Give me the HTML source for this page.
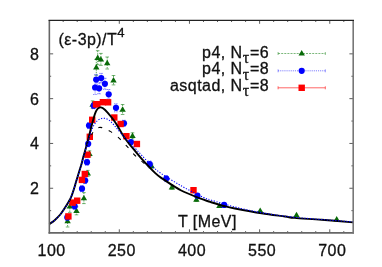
<!DOCTYPE html>
<html><head><meta charset="utf-8"><style>
html,body{margin:0;padding:0;background:#fff}
#c{position:relative;width:382px;height:267px;overflow:hidden;background:#fff;font-family:"Liberation Sans",sans-serif;color:#111;will-change:transform}
.t{position:absolute;white-space:nowrap;line-height:1;-webkit-text-stroke:0.3px #111}
.ls{letter-spacing:0.45px}
.sup{font-size:0.82em;position:relative;top:-0.6em}
.sub{font-family:"Liberation Serif",serif;font-size:1.0em;position:relative;top:0.34em;margin:0 0.3px}
</style></head><body><div id="c">
<svg width="382" height="267" viewBox="0 0 382 267" style="position:absolute;left:0;top:0">
<path d="M63.18 232.80 v-1.70 M63.18 20.30 v1.70 M77.21 232.80 v-1.70 M77.21 20.30 v1.70 M91.24 232.80 v-1.70 M91.24 20.30 v1.70 M105.27 232.80 v-1.70 M105.27 20.30 v1.70 M119.31 232.80 v-3.50 M119.31 20.30 v3.50 M133.34 232.80 v-1.70 M133.34 20.30 v1.70 M147.37 232.80 v-1.70 M147.37 20.30 v1.70 M161.40 232.80 v-1.70 M161.40 20.30 v1.70 M175.43 232.80 v-1.70 M175.43 20.30 v1.70 M189.46 232.80 v-3.50 M189.46 20.30 v3.50 M203.49 232.80 v-1.70 M203.49 20.30 v1.70 M217.52 232.80 v-1.70 M217.52 20.30 v1.70 M231.55 232.80 v-1.70 M231.55 20.30 v1.70 M245.58 232.80 v-1.70 M245.58 20.30 v1.70 M259.62 232.80 v-3.50 M259.62 20.30 v3.50 M273.65 232.80 v-1.70 M273.65 20.30 v1.70 M287.68 232.80 v-1.70 M287.68 20.30 v1.70 M301.71 232.80 v-1.70 M301.71 20.30 v1.70 M315.74 232.80 v-1.70 M315.74 20.30 v1.70 M329.77 232.80 v-3.50 M329.77 20.30 v3.50 M343.80 232.80 v-1.70 M343.80 20.30 v1.70 M49.35 210.65 h1.80 M353.20 210.65 h-1.80 M49.35 188.25 h3.80 M353.20 188.25 h-3.80 M49.35 165.85 h1.80 M353.20 165.85 h-1.80 M49.35 143.45 h3.80 M353.20 143.45 h-3.80 M49.35 121.05 h1.80 M353.20 121.05 h-1.80 M49.35 98.65 h3.80 M353.20 98.65 h-3.80 M49.35 76.25 h1.80 M353.20 76.25 h-1.80 M49.35 53.85 h3.80 M353.20 53.85 h-3.80" stroke="#333" stroke-width="0.8" fill="none"/>
<path d="M97.70 50.70 V64.70" stroke="#0a7a0a" stroke-width="0.8" stroke-dasharray="1.5 1" fill="none" opacity="0.8"/><path d="M95.90 50.70 h3.6 M95.90 64.70 h3.6" stroke="#0a7a0a" stroke-width="0.8" fill="none" opacity="0.7"/>
<path d="M100.90 53.40 V65.40" stroke="#0a7a0a" stroke-width="0.8" stroke-dasharray="1.5 1" fill="none" opacity="0.8"/><path d="M99.10 53.40 h3.6 M99.10 65.40 h3.6" stroke="#0a7a0a" stroke-width="0.8" fill="none" opacity="0.7"/>
<path d="M107.20 57.00 V69.00" stroke="#0a7a0a" stroke-width="0.8" stroke-dasharray="1.5 1" fill="none" opacity="0.8"/><path d="M105.40 57.00 h3.6 M105.40 69.00 h3.6" stroke="#0a7a0a" stroke-width="0.8" fill="none" opacity="0.7"/>
<path d="M96.30 59.30 V75.30" stroke="#0a7a0a" stroke-width="0.8" stroke-dasharray="1.5 1" fill="none" opacity="0.8"/><path d="M94.50 59.30 h3.6 M94.50 75.30 h3.6" stroke="#0a7a0a" stroke-width="0.8" fill="none" opacity="0.7"/>
<path d="M113.50 75.50 V84.90" stroke="#0a7a0a" stroke-width="0.8" stroke-dasharray="1.5 1" fill="none" opacity="0.8"/><path d="M111.70 75.50 h3.6 M111.70 84.90 h3.6" stroke="#0a7a0a" stroke-width="0.8" fill="none" opacity="0.7"/>
<path d="M122.60 104.50 V114.50" stroke="#0a7a0a" stroke-width="0.8" stroke-dasharray="1.5 1" fill="none" opacity="0.8"/><path d="M120.80 104.50 h3.6 M120.80 114.50 h3.6" stroke="#0a7a0a" stroke-width="0.8" fill="none" opacity="0.7"/>
<path d="M132.50 132.80 V138.80" stroke="#0a7a0a" stroke-width="0.8" stroke-dasharray="1.5 1" fill="none" opacity="0.8"/><path d="M130.70 132.80 h3.6 M130.70 138.80 h3.6" stroke="#0a7a0a" stroke-width="0.8" fill="none" opacity="0.7"/>
<path d="M151.60 164.00 V168.00" stroke="#0a7a0a" stroke-width="0.8" stroke-dasharray="1.5 1" fill="none" opacity="0.8"/><path d="M149.80 164.00 h3.6 M149.80 168.00 h3.6" stroke="#0a7a0a" stroke-width="0.8" fill="none" opacity="0.7"/>
<path d="M171.90 185.20 V189.20" stroke="#0a7a0a" stroke-width="0.8" stroke-dasharray="1.5 1" fill="none" opacity="0.8"/><path d="M170.10 185.20 h3.6 M170.10 189.20 h3.6" stroke="#0a7a0a" stroke-width="0.8" fill="none" opacity="0.7"/>
<path d="M196.40 197.50 V201.50" stroke="#0a7a0a" stroke-width="0.8" stroke-dasharray="1.5 1" fill="none" opacity="0.8"/><path d="M194.60 197.50 h3.6 M194.60 201.50 h3.6" stroke="#0a7a0a" stroke-width="0.8" fill="none" opacity="0.7"/>
<path d="M219.40 204.40 V207.40" stroke="#0a7a0a" stroke-width="0.8" stroke-dasharray="1.5 1" fill="none" opacity="0.8"/><path d="M217.60 204.40 h3.6 M217.60 207.40 h3.6" stroke="#0a7a0a" stroke-width="0.8" fill="none" opacity="0.7"/>
<path d="M89.50 150.80 V156.80" stroke="#0a7a0a" stroke-width="0.8" stroke-dasharray="1.5 1" fill="none" opacity="0.8"/><path d="M87.70 150.80 h3.6 M87.70 156.80 h3.6" stroke="#0a7a0a" stroke-width="0.8" fill="none" opacity="0.7"/>
<path d="M87.80 170.40 V176.40" stroke="#0a7a0a" stroke-width="0.8" stroke-dasharray="1.5 1" fill="none" opacity="0.8"/><path d="M86.00 170.40 h3.6 M86.00 176.40 h3.6" stroke="#0a7a0a" stroke-width="0.8" fill="none" opacity="0.7"/>
<path d="M83.90 192.60 V203.60" stroke="#0a7a0a" stroke-width="0.8" stroke-dasharray="1.5 1" fill="none" opacity="0.8"/><path d="M82.10 192.60 h3.6 M82.10 203.60 h3.6" stroke="#0a7a0a" stroke-width="0.8" fill="none" opacity="0.7"/>
<path d="M69.80 200.40 V212.40" stroke="#0a7a0a" stroke-width="0.8" stroke-dasharray="1.5 1" fill="none" opacity="0.8"/><path d="M68.00 200.40 h3.6 M68.00 212.40 h3.6" stroke="#0a7a0a" stroke-width="0.8" fill="none" opacity="0.7"/>
<path d="M76.50 206.80 V214.80" stroke="#0a7a0a" stroke-width="0.8" stroke-dasharray="1.5 1" fill="none" opacity="0.8"/><path d="M74.70 206.80 h3.6 M74.70 214.80 h3.6" stroke="#0a7a0a" stroke-width="0.8" fill="none" opacity="0.7"/>
<path d="M67.60 215.00 V227.00" stroke="#0a7a0a" stroke-width="0.8" stroke-dasharray="1.5 1" fill="none" opacity="0.8"/><path d="M65.80 215.00 h3.6 M65.80 227.00 h3.6" stroke="#0a7a0a" stroke-width="0.8" fill="none" opacity="0.7"/>
<path d="M92.60 100.90 V108.30" stroke="#0a7a0a" stroke-width="0.8" stroke-dasharray="1.5 1" fill="none" opacity="0.8"/><path d="M90.80 100.90 h3.6 M90.80 108.30 h3.6" stroke="#0a7a0a" stroke-width="0.8" fill="none" opacity="0.7"/>
<path d="M97.70 54.50 L100.90 59.90 L94.50 59.90 Z" fill="#086a08"/>
<path d="M100.90 56.20 L104.10 61.60 L97.70 61.60 Z" fill="#086a08"/>
<path d="M107.20 59.80 L110.40 65.20 L104.00 65.20 Z" fill="#086a08"/>
<path d="M96.30 64.10 L99.50 69.50 L93.10 69.50 Z" fill="#086a08"/>
<path d="M113.50 77.00 L116.70 82.40 L110.30 82.40 Z" fill="#086a08"/>
<path d="M122.60 106.30 L125.80 111.70 L119.40 111.70 Z" fill="#086a08"/>
<path d="M132.50 132.60 L135.70 138.00 L129.30 138.00 Z" fill="#086a08"/>
<path d="M151.60 162.80 L154.80 168.20 L148.40 168.20 Z" fill="#086a08"/>
<path d="M171.90 184.00 L175.10 189.40 L168.70 189.40 Z" fill="#086a08"/>
<path d="M196.40 196.30 L199.60 201.70 L193.20 201.70 Z" fill="#086a08"/>
<path d="M219.40 202.70 L222.60 208.10 L216.20 208.10 Z" fill="#086a08"/>
<path d="M260.20 207.40 L263.40 212.80 L257.00 212.80 Z" fill="#086a08"/>
<path d="M296.50 211.80 L299.70 217.20 L293.30 217.20 Z" fill="#086a08"/>
<path d="M336.70 216.00 L339.90 221.40 L333.50 221.40 Z" fill="#086a08"/>
<path d="M89.50 150.60 L92.70 156.00 L86.30 156.00 Z" fill="#086a08"/>
<path d="M87.80 170.20 L91.00 175.60 L84.60 175.60 Z" fill="#086a08"/>
<path d="M83.90 194.90 L87.10 200.30 L80.70 200.30 Z" fill="#086a08"/>
<path d="M69.80 203.20 L73.00 208.60 L66.60 208.60 Z" fill="#086a08"/>
<path d="M76.50 207.60 L79.70 213.00 L73.30 213.00 Z" fill="#086a08"/>
<path d="M67.60 217.80 L70.80 223.20 L64.40 223.20 Z" fill="#086a08"/>
<path d="M92.60 101.40 L95.80 106.80 L89.40 106.80 Z" fill="#086a08"/>
<path d="M96.20 74.60 V84.60" stroke="#2020ff" stroke-width="0.8" stroke-dasharray="1 1" fill="none" opacity="0.8"/><path d="M94.20 74.60 h4 M94.20 84.60 h4" stroke="#2020ff" stroke-width="0.8" stroke-dasharray="1.4 0.8" fill="none" opacity="0.7"/>
<path d="M101.20 73.40 V82.80" stroke="#2020ff" stroke-width="0.8" stroke-dasharray="1 1" fill="none" opacity="0.8"/><path d="M99.20 73.40 h4 M99.20 82.80 h4" stroke="#2020ff" stroke-width="0.8" stroke-dasharray="1.4 0.8" fill="none" opacity="0.7"/>
<path d="M104.90 78.30 V89.30" stroke="#2020ff" stroke-width="0.8" stroke-dasharray="1 1" fill="none" opacity="0.8"/><path d="M102.90 78.30 h4 M102.90 89.30 h4" stroke="#2020ff" stroke-width="0.8" stroke-dasharray="1.4 0.8" fill="none" opacity="0.7"/>
<path d="M95.10 80.50 V94.50" stroke="#2020ff" stroke-width="0.8" stroke-dasharray="1 1" fill="none" opacity="0.8"/><path d="M93.10 80.50 h4 M93.10 94.50 h4" stroke="#2020ff" stroke-width="0.8" stroke-dasharray="1.4 0.8" fill="none" opacity="0.7"/>
<path d="M99.10 82.80 V93.80" stroke="#2020ff" stroke-width="0.8" stroke-dasharray="1 1" fill="none" opacity="0.8"/><path d="M97.10 82.80 h4 M97.10 93.80 h4" stroke="#2020ff" stroke-width="0.8" stroke-dasharray="1.4 0.8" fill="none" opacity="0.7"/>
<path d="M108.70 89.50 V99.10" stroke="#2020ff" stroke-width="0.8" stroke-dasharray="1 1" fill="none" opacity="0.8"/><path d="M106.70 89.50 h4 M106.70 99.10 h4" stroke="#2020ff" stroke-width="0.8" stroke-dasharray="1.4 0.8" fill="none" opacity="0.7"/>
<path d="M116.00 103.80 V111.80" stroke="#2020ff" stroke-width="0.8" stroke-dasharray="1 1" fill="none" opacity="0.8"/><path d="M114.00 103.80 h4 M114.00 111.80 h4" stroke="#2020ff" stroke-width="0.8" stroke-dasharray="1.4 0.8" fill="none" opacity="0.7"/>
<path d="M93.70 102.70 V108.70" stroke="#2020ff" stroke-width="0.8" stroke-dasharray="1 1" fill="none" opacity="0.8"/><path d="M91.70 102.70 h4 M91.70 108.70 h4" stroke="#2020ff" stroke-width="0.8" stroke-dasharray="1.4 0.8" fill="none" opacity="0.7"/>
<path d="M124.00 120.30 V126.30" stroke="#2020ff" stroke-width="0.8" stroke-dasharray="1 1" fill="none" opacity="0.8"/><path d="M122.00 120.30 h4 M122.00 126.30 h4" stroke="#2020ff" stroke-width="0.8" stroke-dasharray="1.4 0.8" fill="none" opacity="0.7"/>
<path d="M89.00 122.60 V128.60" stroke="#2020ff" stroke-width="0.8" stroke-dasharray="1 1" fill="none" opacity="0.8"/><path d="M87.00 122.60 h4 M87.00 128.60 h4" stroke="#2020ff" stroke-width="0.8" stroke-dasharray="1.4 0.8" fill="none" opacity="0.7"/>
<path d="M88.20 140.80 V146.80" stroke="#2020ff" stroke-width="0.8" stroke-dasharray="1 1" fill="none" opacity="0.8"/><path d="M86.20 140.80 h4 M86.20 146.80 h4" stroke="#2020ff" stroke-width="0.8" stroke-dasharray="1.4 0.8" fill="none" opacity="0.7"/>
<path d="M87.00 159.20 V165.20" stroke="#2020ff" stroke-width="0.8" stroke-dasharray="1 1" fill="none" opacity="0.8"/><path d="M85.00 159.20 h4 M85.00 165.20 h4" stroke="#2020ff" stroke-width="0.8" stroke-dasharray="1.4 0.8" fill="none" opacity="0.7"/>
<path d="M85.20 177.60 V183.60" stroke="#2020ff" stroke-width="0.8" stroke-dasharray="1 1" fill="none" opacity="0.8"/><path d="M83.20 177.60 h4 M83.20 183.60 h4" stroke="#2020ff" stroke-width="0.8" stroke-dasharray="1.4 0.8" fill="none" opacity="0.7"/>
<path d="M82.00 185.70 V191.70" stroke="#2020ff" stroke-width="0.8" stroke-dasharray="1 1" fill="none" opacity="0.8"/><path d="M80.00 185.70 h4 M80.00 191.70 h4" stroke="#2020ff" stroke-width="0.8" stroke-dasharray="1.4 0.8" fill="none" opacity="0.7"/>
<path d="M74.70 203.30 V209.30" stroke="#2020ff" stroke-width="0.8" stroke-dasharray="1 1" fill="none" opacity="0.8"/><path d="M72.70 203.30 h4 M72.70 209.30 h4" stroke="#2020ff" stroke-width="0.8" stroke-dasharray="1.4 0.8" fill="none" opacity="0.7"/>
<path d="M67.30 214.40 V220.40" stroke="#2020ff" stroke-width="0.8" stroke-dasharray="1 1" fill="none" opacity="0.8"/><path d="M65.30 214.40 h4 M65.30 220.40 h4" stroke="#2020ff" stroke-width="0.8" stroke-dasharray="1.4 0.8" fill="none" opacity="0.7"/>
<path d="M131.00 140.10 V144.10" stroke="#2020ff" stroke-width="0.8" stroke-dasharray="1 1" fill="none" opacity="0.8"/><path d="M129.00 140.10 h4 M129.00 144.10 h4" stroke="#2020ff" stroke-width="0.8" stroke-dasharray="1.4 0.8" fill="none" opacity="0.7"/>
<path d="M149.70 161.00 V167.00" stroke="#2020ff" stroke-width="0.8" stroke-dasharray="1 1" fill="none" opacity="0.8"/><path d="M147.70 161.00 h4 M147.70 167.00 h4" stroke="#2020ff" stroke-width="0.8" stroke-dasharray="1.4 0.8" fill="none" opacity="0.7"/>
<path d="M166.30 175.60 V181.60" stroke="#2020ff" stroke-width="0.8" stroke-dasharray="1 1" fill="none" opacity="0.8"/><path d="M164.30 175.60 h4 M164.30 181.60 h4" stroke="#2020ff" stroke-width="0.8" stroke-dasharray="1.4 0.8" fill="none" opacity="0.7"/>
<path d="M197.40 193.70 V197.70" stroke="#2020ff" stroke-width="0.8" stroke-dasharray="1 1" fill="none" opacity="0.8"/><path d="M195.40 193.70 h4 M195.40 197.70 h4" stroke="#2020ff" stroke-width="0.8" stroke-dasharray="1.4 0.8" fill="none" opacity="0.7"/>
<path d="M224.10 202.90 V206.90" stroke="#2020ff" stroke-width="0.8" stroke-dasharray="1 1" fill="none" opacity="0.8"/><path d="M222.10 202.90 h4 M222.10 206.90 h4" stroke="#2020ff" stroke-width="0.8" stroke-dasharray="1.4 0.8" fill="none" opacity="0.7"/>
<circle cx="96.20" cy="79.60" r="3.1" fill="#0000ff"/>
<circle cx="101.20" cy="78.10" r="3.1" fill="#0000ff"/>
<circle cx="104.90" cy="83.80" r="3.1" fill="#0000ff"/>
<circle cx="95.10" cy="87.50" r="3.1" fill="#0000ff"/>
<circle cx="99.10" cy="88.30" r="3.1" fill="#0000ff"/>
<circle cx="108.70" cy="94.30" r="3.1" fill="#0000ff"/>
<circle cx="116.00" cy="107.80" r="3.1" fill="#0000ff"/>
<circle cx="93.70" cy="105.70" r="3.1" fill="#0000ff"/>
<circle cx="124.00" cy="123.30" r="3.1" fill="#0000ff"/>
<circle cx="89.00" cy="125.60" r="3.1" fill="#0000ff"/>
<circle cx="88.20" cy="143.80" r="3.1" fill="#0000ff"/>
<circle cx="87.00" cy="162.20" r="3.1" fill="#0000ff"/>
<circle cx="85.20" cy="180.60" r="3.1" fill="#0000ff"/>
<circle cx="82.00" cy="188.70" r="3.1" fill="#0000ff"/>
<circle cx="74.70" cy="206.30" r="3.1" fill="#0000ff"/>
<circle cx="67.30" cy="217.40" r="3.1" fill="#0000ff"/>
<circle cx="131.00" cy="142.10" r="3.1" fill="#0000ff"/>
<circle cx="149.70" cy="164.00" r="3.1" fill="#0000ff"/>
<circle cx="166.30" cy="178.60" r="3.1" fill="#0000ff"/>
<circle cx="197.40" cy="195.70" r="3.1" fill="#0000ff"/>
<circle cx="224.10" cy="204.90" r="3.1" fill="#0000ff"/>
<rect x="92.80" y="101.10" width="6.4" height="6.4" fill="#ff0000"/>
<rect x="94.10" y="101.00" width="6.4" height="6.4" fill="#ff0000"/>
<rect x="99.70" y="99.00" width="6.4" height="6.4" fill="#ff0000"/>
<rect x="104.90" y="99.10" width="6.4" height="6.4" fill="#ff0000"/>
<rect x="89.00" y="116.60" width="6.4" height="6.4" fill="#ff0000"/>
<rect x="111.10" y="114.30" width="6.4" height="6.4" fill="#ff0000"/>
<rect x="117.40" y="120.80" width="6.4" height="6.4" fill="#ff0000"/>
<rect x="86.60" y="133.60" width="6.4" height="6.4" fill="#ff0000"/>
<rect x="123.20" y="133.00" width="6.4" height="6.4" fill="#ff0000"/>
<rect x="133.70" y="140.80" width="6.4" height="6.4" fill="#ff0000"/>
<rect x="84.20" y="151.50" width="6.4" height="6.4" fill="#ff0000"/>
<rect x="81.60" y="170.80" width="6.4" height="6.4" fill="#ff0000"/>
<rect x="78.70" y="176.70" width="6.4" height="6.4" fill="#ff0000"/>
<rect x="74.00" y="197.50" width="6.4" height="6.4" fill="#ff0000"/>
<rect x="69.40" y="199.40" width="6.4" height="6.4" fill="#ff0000"/>
<rect x="65.20" y="213.20" width="6.4" height="6.4" fill="#ff0000"/>
<rect x="190.30" y="187.00" width="6.4" height="6.4" fill="#ff0000"/>
<path d="M49.35 224.00 C50.19 223.40 52.51 222.07 54.40 220.40 C56.29 218.73 58.60 216.63 60.70 214.00 C62.80 211.37 65.28 207.38 67.00 204.60 C68.72 201.82 69.78 200.10 71.00 197.30 C72.22 194.50 73.43 190.47 74.30 187.80 C75.17 185.13 75.00 185.25 76.20 181.30 C77.40 177.35 80.28 168.27 81.50 164.10 C82.72 159.93 82.43 160.18 83.50 156.30 C84.57 152.42 86.60 145.68 87.90 140.80 C89.20 135.92 90.13 131.47 91.30 127.00 C92.47 122.53 93.88 117.00 94.90 114.00 C95.92 111.00 96.52 110.10 97.40 109.00 C98.28 107.90 99.27 107.52 100.20 107.40 C101.13 107.28 101.77 107.43 103.00 108.30 C104.23 109.17 105.80 110.60 107.60 112.60 C109.40 114.60 111.92 117.70 113.80 120.30 C115.68 122.90 117.20 125.42 118.90 128.20 C120.60 130.98 121.93 133.98 124.00 137.00 C126.07 140.02 128.38 142.68 131.30 146.30 C134.22 149.92 137.55 154.27 141.50 158.70 C145.45 163.13 151.45 169.53 155.00 172.90 C158.55 176.27 158.43 175.97 162.80 178.90 C167.17 181.83 174.40 187.03 181.20 190.50 C188.00 193.97 198.60 197.75 203.60 199.70 C208.60 201.65 207.63 201.10 211.20 202.20 C214.77 203.30 221.05 205.25 225.00 206.30 C228.95 207.35 228.80 207.33 234.90 208.50 C241.00 209.67 253.25 211.97 261.60 213.30 C269.95 214.63 279.50 215.73 285.00 216.50 C290.50 217.27 288.50 217.35 294.60 217.90 C300.70 218.45 311.83 219.05 321.60 219.80 C331.37 220.55 347.93 221.97 353.20 222.40" stroke="#000" stroke-width="1.95" fill="none"/>
<path d="M49.35 224.00 C50.19 223.40 52.51 222.07 54.40 220.40 C56.29 218.73 58.60 216.63 60.70 214.00 C62.80 211.37 65.28 207.38 67.00 204.60 C68.72 201.82 69.78 200.10 71.00 197.30 C72.22 194.50 73.43 190.47 74.30 187.80 C75.17 185.13 74.98 185.25 76.20 181.30 C77.42 177.35 80.35 168.27 81.60 164.10 C82.85 159.93 82.58 160.18 83.70 156.30 C84.82 152.42 86.93 145.27 88.30 140.80 C89.67 136.33 90.68 132.53 91.90 129.50 C93.12 126.47 94.33 124.30 95.60 122.60 C96.87 120.90 98.17 120.03 99.50 119.30 C100.83 118.57 102.27 118.20 103.60 118.20 C104.93 118.20 106.18 118.62 107.50 119.30 C108.82 119.98 109.92 120.75 111.50 122.30 C113.08 123.85 114.75 125.98 117.00 128.60 C119.25 131.22 121.73 134.47 125.00 138.00 C128.27 141.53 131.40 144.50 136.60 149.80 C141.80 155.10 148.77 163.80 156.20 169.80 C163.63 175.80 173.30 181.18 181.20 185.80 C189.10 190.42 198.60 195.12 203.60 197.50 C208.60 199.88 205.98 198.52 211.20 200.10 C216.42 201.68 226.50 204.90 234.90 207.00 C243.30 209.10 251.65 210.98 261.60 212.70 C271.55 214.42 279.33 215.77 294.60 217.30 C309.87 218.83 343.43 221.13 353.20 221.90" stroke="#0000ff" stroke-width="1.1" stroke-dasharray="1.2 1.6" fill="none"/>
<path d="M91.50 135.00 C91.83 134.42 92.75 132.53 93.50 131.50 C94.25 130.47 95.08 129.47 96.00 128.80 C96.92 128.13 98.00 127.70 99.00 127.50 C100.00 127.30 100.83 127.32 102.00 127.60 C103.17 127.88 104.62 128.57 106.00 129.20 C107.38 129.83 108.22 130.00 110.30 131.40 C112.38 132.80 115.83 135.23 118.50 137.60 C121.17 139.97 123.68 142.77 126.30 145.60 C128.92 148.43 131.47 151.83 134.20 154.60 C136.93 157.37 140.07 159.92 142.70 162.20 C145.33 164.48 148.78 167.28 150.00 168.30" stroke="#000" stroke-width="1.1" stroke-dasharray="4 7.2" stroke-dashoffset="-10.25" fill="none"/>
<path d="M49.35 20.30 V233.60" stroke="#666" stroke-width="1.6" fill="none"/>
<path d="M48.55 232.80 H354.00" stroke="#666" stroke-width="1.7" fill="none"/>
<path d="M353.20 20.30 V233.60" stroke="#777" stroke-width="1.6" fill="none"/>
<path d="M48.55 20.30 H354.00" stroke="#222" stroke-width="1.15" fill="none"/>
<path d="M278.10 53.4 H325.30" stroke="#0a7a0a" stroke-width="0.8" stroke-dasharray="2 1.1" opacity="0.75"/>
<path d="M278.10 52 v3 M325.30 52 v3" stroke="#0a7a0a" stroke-width="0.8" opacity="0.6"/>
<path d="M301.70 50.00 L304.90 55.40 L298.50 55.40 Z" fill="#086a08"/>
<path d="M278.10 70.8 H325.30" stroke="#2020ff" stroke-width="0.8" stroke-dasharray="1.1 1" opacity="0.75"/>
<path d="M278.10 69.3 v3 M325.30 69.3 v3" stroke="#2020ff" stroke-width="0.8" opacity="0.55"/>
<circle cx="301.70" cy="70.8" r="3.1" fill="#0000ff"/>
<path d="M278.10 87.8 H325.30 M278.10 86.3 v3 M325.30 86.3 v3" stroke="#ff4040" stroke-width="0.8"/>
<rect x="298.50" y="84.60" width="6.4" height="6.4" fill="#ff0000"/>
</svg>
<div class="t" style="left:58.5px;top:32.1px;font-size:16px"><span class="ls">(&epsilon;-3p)/T<span class="sup">4</span></span></div>
<div class="t" style="left:178.0px;top:213.7px;font-size:16px"><span class="ls">T [MeV]</span></div>
<div class="t" style="left:51.6px;top:242.7px;font-size:16px;transform:translateX(-50%)"><span class="ls">100</span></div>
<div class="t" style="left:121.8px;top:242.7px;font-size:16px;transform:translateX(-50%)"><span class="ls">250</span></div>
<div class="t" style="left:192.0px;top:242.7px;font-size:16px;transform:translateX(-50%)"><span class="ls">400</span></div>
<div class="t" style="left:262.1px;top:242.7px;font-size:16px;transform:translateX(-50%)"><span class="ls">550</span></div>
<div class="t" style="left:332.3px;top:242.7px;font-size:16px;transform:translateX(-50%)"><span class="ls">700</span></div>
<div class="t" style="right:343.1px;top:181.2px;font-size:16px">2</div>
<div class="t" style="right:343.1px;top:136.4px;font-size:16px">4</div>
<div class="t" style="right:343.1px;top:91.6px;font-size:16px">6</div>
<div class="t" style="right:343.1px;top:46.8px;font-size:16px">8</div>
<div class="t" style="right:112.8px;top:44.7px;font-size:16px"><span class="ls">p4, N<span class="sub">&tau;</span>=6</span></div>
<div class="t" style="right:112.8px;top:61.1px;font-size:16px"><span class="ls">p4, N<span class="sub">&tau;</span>=8</span></div>
<div class="t" style="right:112.8px;top:77.7px;font-size:16px"><span class="ls">asqtad, N<span class="sub">&tau;</span>=8</span></div>
</div></body></html>
